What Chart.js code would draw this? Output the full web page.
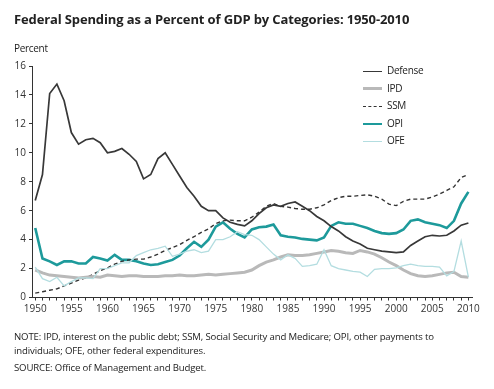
<!DOCTYPE html>
<html>
<head>
<meta charset="utf-8">
<script src="https://cdn.jsdelivr.net/npm/chart.js@4/dist/chart.umd.min.js"></script>
<style>
  body { margin: 0; background: #fff; font-family: "Open Sans", sans-serif; color: #222; }
  #wrap { position: relative; width: 494px; height: 389px; overflow: hidden; }
  #chart { position: absolute; left: 0; top: 0; }
  .title { position: absolute; left: 14px; top: 10px; font-size: 13px; font-weight: bold; letter-spacing: -0.13px; }
  .unit { position: absolute; left: 14px; top: 41px; font-size: 10px; letter-spacing: -0.3px; }
  .legend { position: absolute; left: 363px; top: 62px; font-size: 10px; letter-spacing: -0.3px; }
  .legend div { height: 17.6px; line-height: 17px; white-space: nowrap; }
  .legend span.swatch { display: inline-block; width: 19px; vertical-align: middle; margin-right: 5px; }
  .note { position: absolute; left: 14px; top: 330px; font-size: 9.6px; line-height: 14px; letter-spacing: -0.15px; }
  .note p { margin: 0; }
  .note p.src { margin-top: 3px; }
</style>
</head>
<body>
<div id="wrap">
  <canvas id="chart" width="494" height="389"></canvas>
  <div class="title">Federal Spending as a Percent of GDP by Categories: 1950-2010</div>
  <div class="unit">Percent</div>
  <div class="legend" id="legend"></div>
  <div class="note">
    <p>NOTE: IPD, interest on the public debt; SSM, Social Security and Medicare; OPI, other payments to</p>
    <p>individuals; OFE, other federal expenditures.</p>
    <p class="src">SOURCE: Office of Management and Budget.</p>
  </div>
</div>
<script>
// Years on the x axis
const years = [
  1950, 1951, 1952, 1953, 1954, 1955, 1956, 1957, 1958, 1959,
  1960, 1961, 1962, 1963, 1964, 1965, 1966, 1967, 1968, 1969,
  1970, 1971, 1972, 1973, 1974, 1975, 1976, 1977, 1978, 1979,
  1980, 1981, 1982, 1983, 1984, 1985, 1986, 1987, 1988, 1989,
  1990, 1991, 1992, 1993, 1994, 1995, 1996, 1997, 1998, 1999,
  2000, 2001, 2002, 2003, 2004, 2005, 2006, 2007, 2008, 2009, 2010
];
const xTickLabels = [1950, 1955, 1960, 1965, 1970, 1975, 1980, 1985, 1990, 1995, 2000, 2005, 2010];
const yTickLabels = [0, 2, 4, 6, 8, 10, 12, 14, 16];

// Percent of GDP
const defense = [
  6.7, 8.5, 14.1, 14.75, 13.6, 11.4, 10.6, 10.9, 11.0, 10.7,
  10.0, 10.1, 10.3, 9.9, 9.4, 8.2, 8.5, 9.6, 10.0, 9.2,
  8.4, 7.6, 7.0, 6.3, 6.0, 6.0, 5.5, 5.2, 5.05, 4.95,
  5.3, 5.8, 6.2, 6.4, 6.3, 6.5, 6.6, 6.3, 6.0, 5.6,
  5.3, 4.9, 4.6, 4.2, 3.9, 3.7, 3.4, 3.3, 3.2, 3.15,
  3.1, 3.15, 3.6, 3.9, 4.2, 4.3, 4.25, 4.3, 4.6, 5.0, 5.15
];
const ipd = [
  1.9, 1.7, 1.55, 1.5, 1.45, 1.4, 1.35, 1.4, 1.45, 1.4,
  1.55, 1.5, 1.45, 1.5, 1.5, 1.45, 1.45, 1.45, 1.5, 1.5,
  1.55, 1.5, 1.5, 1.55, 1.6, 1.55, 1.6, 1.65, 1.7, 1.75,
  1.9, 2.2, 2.45, 2.6, 2.8, 2.95, 2.9, 2.9, 2.95, 3.05,
  3.15, 3.25, 3.2, 3.1, 3.05, 3.25, 3.15, 3.0, 2.75, 2.45,
  2.2, 1.9, 1.65, 1.5, 1.45, 1.5, 1.6, 1.7, 1.75, 1.45, 1.4
];
const ssm = [
  0.3, 0.4, 0.5, 0.6, 0.8, 1.0, 1.2, 1.35, 1.6, 1.85,
  2.05, 2.3, 2.5, 2.6, 2.65, 2.65, 2.8, 3.0, 3.25, 3.45,
  3.65, 3.95, 4.2, 4.5, 4.75, 5.1, 5.3, 5.35, 5.3, 5.3,
  5.55, 5.9, 6.3, 6.5, 6.3, 6.25, 6.15, 6.1, 6.1, 6.2,
  6.4, 6.7, 6.9, 7.0, 7.0, 7.05, 7.1, 7.0, 6.8, 6.45,
  6.35, 6.65, 6.8, 6.8, 6.8, 6.95, 7.15, 7.4, 7.65, 8.3, 8.5
];
const opi = [
  4.8, 2.7, 2.5, 2.25, 2.5, 2.5, 2.35, 2.35, 2.8, 2.7,
  2.55, 2.95, 2.6, 2.6, 2.5, 2.35, 2.25, 2.3, 2.45, 2.6,
  2.9, 3.4, 3.85, 3.5, 4.0, 4.9, 5.2, 4.75, 4.4, 4.15,
  4.7, 4.85, 4.9, 5.05, 4.3, 4.2, 4.15, 4.05, 4.0, 3.95,
  4.15, 4.95, 5.2, 5.1, 5.1, 4.95, 4.8, 4.6, 4.45, 4.4,
  4.45, 4.7, 5.3, 5.4, 5.2, 5.1, 5.0, 4.8, 5.3, 6.5, 7.3
];
const ofe = [
  2.1, 1.3, 1.1, 1.4, 0.8, 1.1, 1.35, 1.35, 1.3, 2.0,
  2.0, 2.2, 2.4, 2.4, 2.9, 3.1, 3.3, 3.4, 3.55, 2.85,
  3.0, 3.2, 3.3, 3.1, 3.2, 4.0, 4.0, 4.2, 4.55, 4.35,
  4.3, 4.0, 3.5, 3.0, 2.6, 2.95, 2.7, 2.15, 2.2, 2.3,
  3.3, 2.2, 2.0, 1.9, 1.8, 1.75, 1.45, 1.95, 2.0, 2.0,
  2.05, 2.2, 2.3, 2.2, 2.15, 2.15, 2.1, 1.5, 1.8, 3.9, 1.4
];

const series = [
  { label: 'OFE', data: ofe, color: '#b3dde0', width: 1.3, dash: [] },
  { label: 'IPD', data: ipd, color: '#b9b9b9', width: 3, dash: [] },
  { label: 'SSM', data: ssm, color: '#333333', width: 1.4, dash: [4, 3] },
  { label: 'Defense', data: defense, color: '#383838', width: 1.7, dash: [] },
  { label: 'OPI', data: opi, color: '#1d9a9b', width: 2.6, dash: [] }
];
const legendOrder = ['Defense', 'IPD', 'SSM', 'OPI', 'OFE'];

// html legend
const legendBox = document.getElementById('legend');
legendOrder.forEach(name => {
  const s = series.find(d => d.label === name);
  const row = document.createElement('div');
  const sw = document.createElement('span');
  sw.className = 'swatch';
  sw.style.borderTop = Math.max(1.5, s.width) + 'px ' + (s.dash.length ? 'dashed ' : 'solid ') + s.color;
  row.appendChild(sw);
  row.appendChild(document.createTextNode(name));
  legendBox.appendChild(row);
});

const ctx = document.getElementById('chart').getContext('2d');
new Chart(ctx, {
  type: 'line',
  data: {
    datasets: series.map(s => ({
      label: s.label,
      data: years.map((y, i) => ({ x: y, y: s.data[i] })),
      borderColor: s.color,
      borderWidth: s.width,
      borderDash: s.dash,
      pointRadius: 0,
      tension: 0,
      fill: false
    }))
  },
  options: {
    responsive: false,
    animation: false,
    layout: { padding: { top: 66, right: 22, left: 0, bottom: 0 } },
    plugins: { legend: { display: false }, tooltip: { enabled: false } },
    scales: {
      x: {
        type: 'linear',
        min: 1949.55,
        max: 2010.5,
        afterBuildTicks: scale => { scale.ticks = years.map(v => ({ value: v })); },
        afterFit: scale => { scale.height = 91.5; },
        grid: { drawOnChartArea: false, tickLength: 3, color: '#333', tickColor: '#333' },
        border: { color: '#333', width: 1 },
        ticks: {
          autoSkip: false,
          maxRotation: 0,
          padding: 3,
          color: '#333',
          font: { family: 'Open Sans', size: 10 },
          callback: v => xTickLabels.includes(v) ? String(v) : ''
        }
      },
      y: {
        min: 0,
        max: 16,
        afterBuildTicks: scale => { scale.ticks = yTickLabels.map(v => ({ value: v })); },
        afterFit: scale => { scale.width = 32; },
        grid: { drawOnChartArea: false, tickLength: 3, color: '#333', tickColor: '#333' },
        border: { color: '#333', width: 1 },
        ticks: {
          padding: 3,
          color: '#333',
          font: { family: 'Open Sans', size: 10 }
        }
      }
    }
  }
});
</script>
</body>
</html>
